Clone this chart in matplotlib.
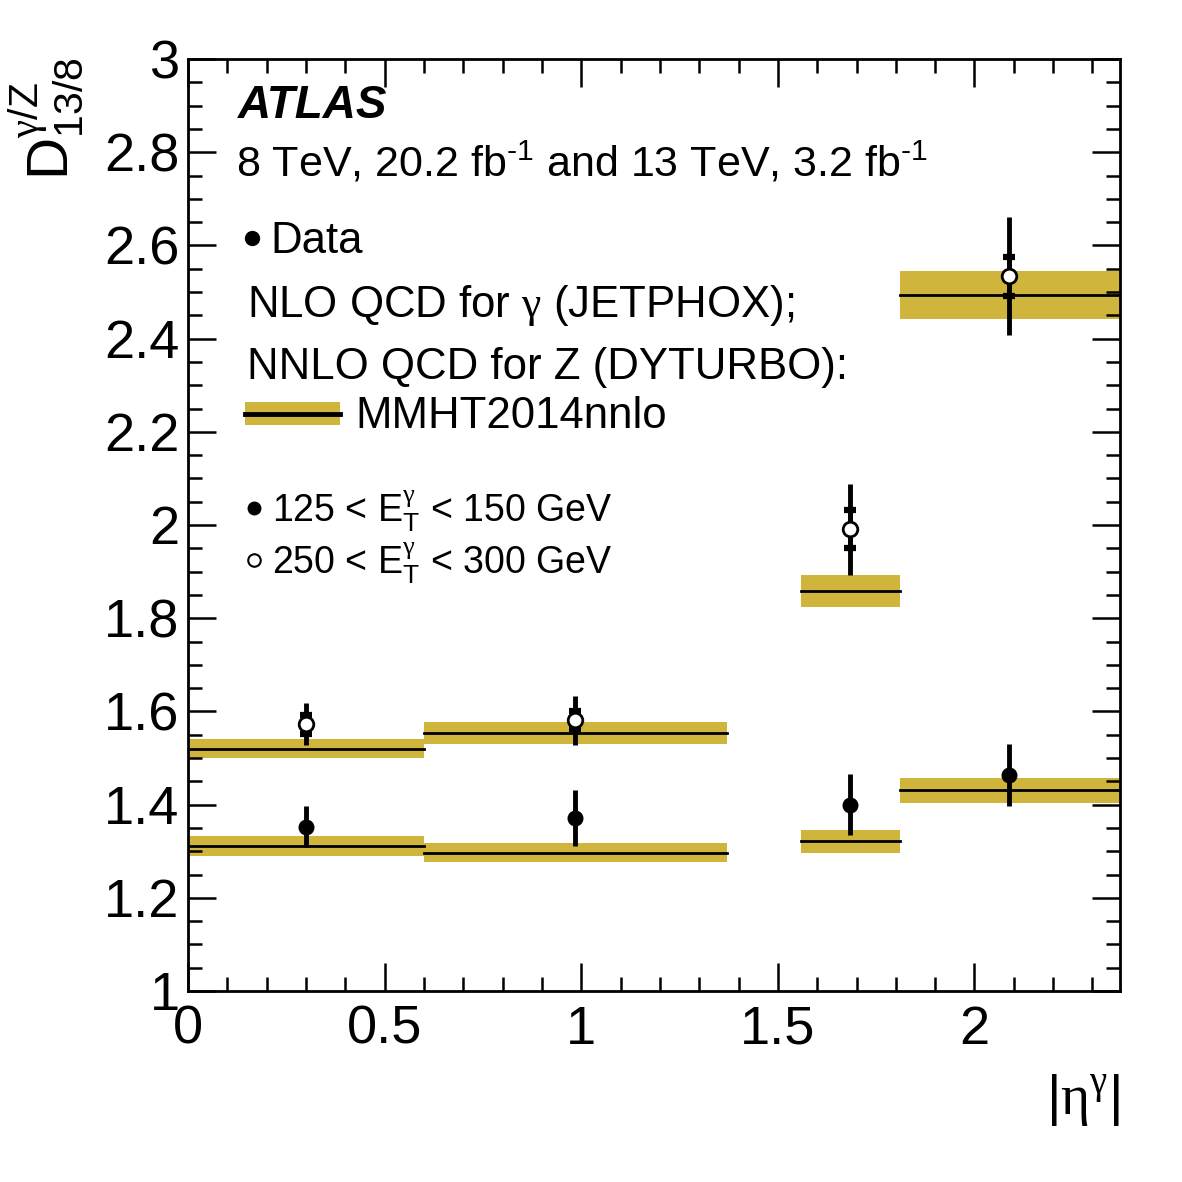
import matplotlib
matplotlib.use("Agg")
import matplotlib.pyplot as plt
import numpy as np
from matplotlib.ticker import MultipleLocator

plt.rcParams['font.family'] = ['Liberation Sans', 'DejaVu Sans']
plt.rcParams['mathtext.fontset'] = 'custom'
plt.rcParams['mathtext.rm'] = 'Liberation Sans'
plt.rcParams['mathtext.it'] = 'Liberation Sans:italic'
plt.rcParams['mathtext.bf'] = 'Liberation Sans:bold'
plt.rcParams['mathtext.sf'] = 'Liberation Serif'

# ---- data ----
bin_lo = [0.0, 0.6, 1.56, 1.81]
bin_hi = [0.6, 1.37, 1.81, 2.37]
x_pts = [0.30, 0.985, 1.684, 2.089]

# 125 < ET < 150 GeV
theo_low = [1.311, 1.297, 1.321, 1.431]
theo_low_err = [0.021, 0.021, 0.024, 0.027]
data_low = [1.353, 1.371, 1.400, 1.464]
data_low_tot = [0.043, 0.060, 0.066, 0.067]

# 250 < ET < 300 GeV
theo_high = [1.520, 1.554, 1.858, 2.494]
theo_high_err = [0.021, 0.023, 0.035, 0.052]
data_high = [1.572, 1.581, 1.991, 2.534]
data_high_tot = [0.045, 0.053, 0.098, 0.127]
data_high_stat = [0.020, 0.019, 0.041, 0.042]

band_color = '#cfb53b'

fig = plt.figure(figsize=(11.82, 11.82), dpi=100)
ax = fig.add_axes([188/1182, 1-991/1182, (1120-188)/1182, (991-59)/1182])

for lo, hi, tl, tle, th, the in zip(bin_lo, bin_hi, theo_low, theo_low_err, theo_high, theo_high_err):
    for v, e in ((tl, tle), (th, the)):
        ax.fill_between([lo, hi], [v-e, v-e], [v+e, v+e], color=band_color, lw=0, zorder=1)
        ax.plot([lo, hi], [v, v], color='k', lw=2, zorder=2)

# filled points
ax.errorbar(x_pts, data_low, yerr=data_low_tot, fmt='none', ecolor='k', elinewidth=3.5, zorder=3)
ax.plot(x_pts, data_low, 'o', color='k', ms=10.5, zorder=5)
# open points
ax.errorbar(x_pts, data_high, yerr=data_high_tot, fmt='none', ecolor='k', elinewidth=3.5, zorder=3)
ax.errorbar(x_pts, data_high, yerr=data_high_stat, fmt='none', ecolor='k', elinewidth=3.5,
            capsize=4.5, capthick=4.5, zorder=3)
ax.plot(x_pts, data_high, 'o', mfc='white', mec='k', mew=2, ms=10.5, zorder=5)

ax.set_xlim(0, 2.37)
ax.set_ylim(1, 3)
ax.xaxis.set_major_locator(MultipleLocator(0.5))
ax.xaxis.set_minor_locator(MultipleLocator(0.1))
ax.yaxis.set_major_locator(MultipleLocator(0.2))
ax.yaxis.set_minor_locator(MultipleLocator(0.05))
ax.tick_params(which='both', direction='in', top=True, right=True, width=1.8)
ax.tick_params(which='major', length=20, labelsize=39, pad=6)
ax.tick_params(which='minor', length=10)
ax.tick_params(axis='x', which='major', pad=10)
for s in ax.spines.values():
    s.set_linewidth(2)

def fmt(v, pos):
    s = ('%.1f' % v).rstrip('0').rstrip('.')
    return s
ax.xaxis.set_major_formatter(plt.FuncFormatter(fmt))
ax.yaxis.set_major_formatter(plt.FuncFormatter(fmt))

ax.set_xlabel(r'$|\mathsf{\eta}^{\mathsf{\gamma}}|$', fontsize=40, loc='right', labelpad=12)
fig.text(6/1182, 1-57/1182, r'$\mathrm{D}^{\mathsf{\gamma}/\mathrm{Z}}_{13/8}$', fontsize=42,
         rotation=90, ha='left', va='top')

T = ax.transAxes
def px(xp, yp):
    return ((xp-188)/(1120-188), (991-yp)/(991-59))

ax.text(*px(238, 118), 'ATLAS', transform=T, fontsize=33, fontweight='bold', style='italic', va='baseline')
ax.text(*px(236, 176), r'8 TeV, 20.2 fb$^{\text{-1}}$ and 13 TeV, 3.2 fb$^{\text{-1}}$', transform=T, fontsize=31, va='baseline')
ax.plot(*px(252, 238), 'o', color='k', ms=10, transform=T, clip_on=False)
ax.text(*px(270, 253), 'Data', transform=T, fontsize=31.5, va='baseline')
ax.text(*px(247, 317), r'NLO QCD for $\mathsf{\gamma}$ (JETPHOX);', transform=T, fontsize=31.5, va='baseline')
ax.text(*px(247, 379), 'NNLO QCD for Z (DYTURBO):', transform=T, fontsize=31.5, va='baseline')
x0, y0 = px(245, 425)
x1, y1 = px(340, 402)
ax.add_patch(plt.Rectangle((x0, y0), x1-x0, y1-y0, transform=T, color=band_color, lw=0))
ax.plot([x0, x1], [(y0+y1)/2]*2, color='k', lw=3.5, transform=T)
ax.text(*px(355, 428), 'MMHT2014nnlo', transform=T, fontsize=31.5, va='baseline')

ax.plot(*px(254, 508), 'o', color='k', ms=9, transform=T, clip_on=False)
ax.text(*px(272, 522), r'125 < E$_{\mathrm{T}}^{\mathsf{\gamma}}$ < 150 GeV', transform=T, fontsize=27, va='baseline')
ax.plot(*px(254, 560), 'o', mfc='white', mec='k', mew=1.5, ms=9, transform=T, clip_on=False)
ax.text(*px(272, 574), r'250 < E$_{\mathrm{T}}^{\mathsf{\gamma}}$ < 300 GeV', transform=T, fontsize=27, va='baseline')

fig.savefig('out.png', dpi=100)
